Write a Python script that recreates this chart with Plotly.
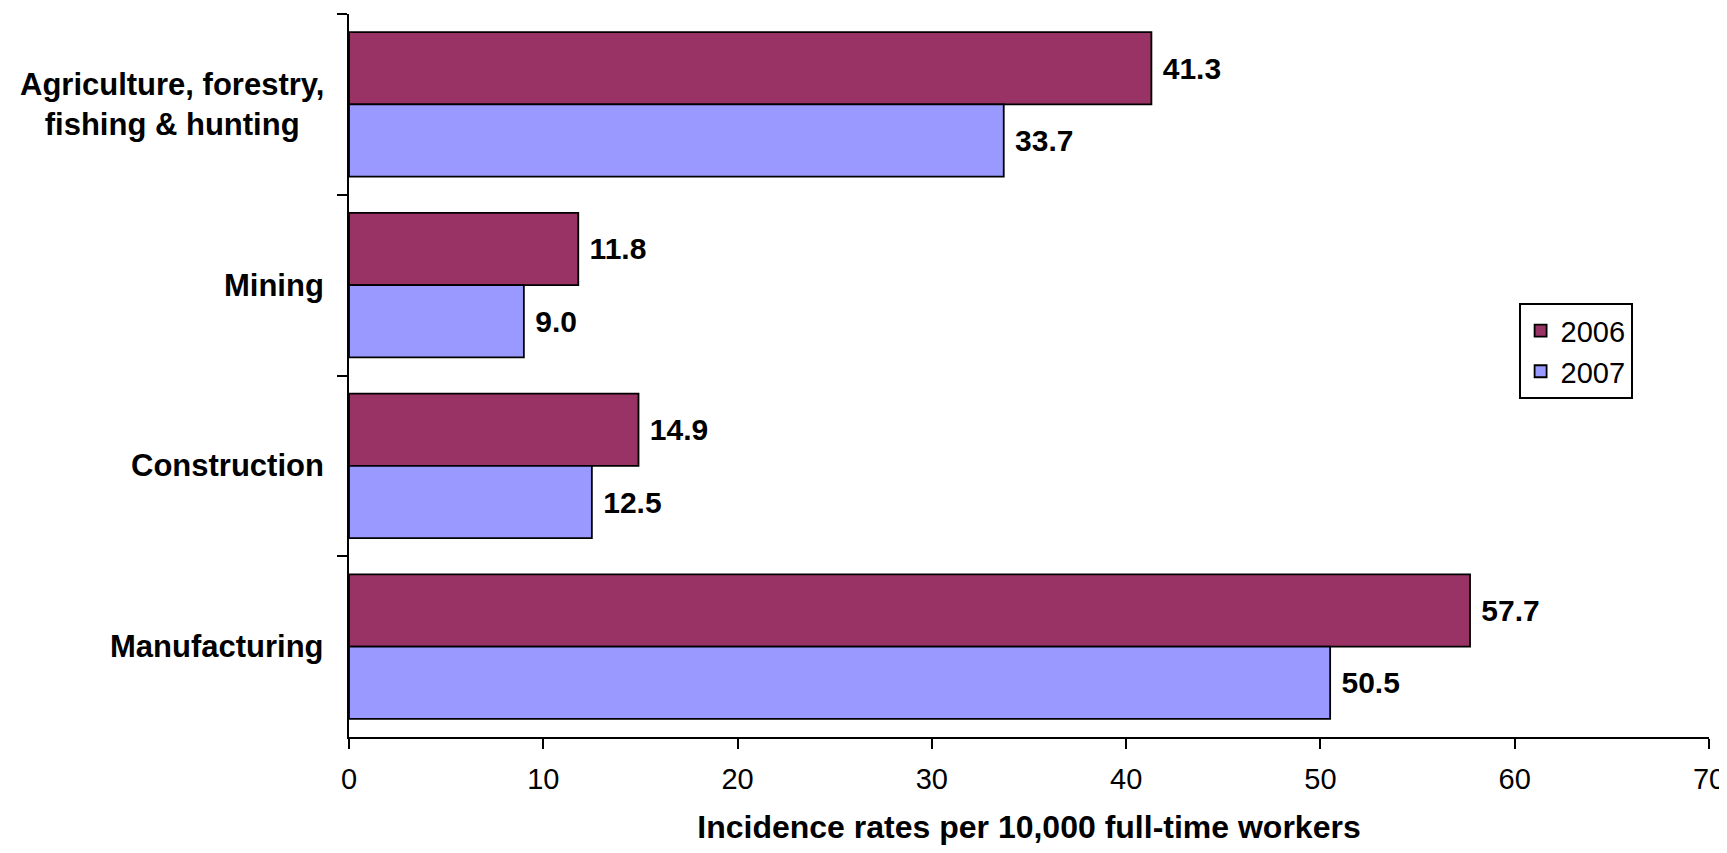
import plotly.graph_objects as go

categories = ["Agriculture, forestry,<br>fishing & hunting", "Mining", "Construction", "Manufacturing"]
series_names = ["2006", "2007"]
values_2006 = [41.3, 11.8, 14.9, 57.7]
values_2007 = [33.7, 9.0, 12.5, 50.5]
x_ticks = [0, 10, 20, 30, 40, 50, 60, 70]
x_title = "Incidence rates per 10,000 full-time workers"

colors = {"2006": "#993366", "2007": "#9999FF"}
FONT = "Liberation Sans, Arial, sans-serif"

fig = go.Figure()
for name, vals in zip(series_names, [values_2006, values_2007]):
    fig.add_trace(go.Bar(
        y=categories,
        x=vals,
        name=name,
        orientation="h",
        marker=dict(color=colors[name], line=dict(color="black", width=1.8)),
        texttemplate=" %{x:.1f}",
        textposition="outside",
        constraintext="none",
        cliponaxis=False,
        textfont=dict(family=FONT, size=30, color="black", weight="bold"),
    ))

annotations = []
for cat in categories:
    annotations.append(dict(
        text="<b>" + cat + "</b>", x=-0.017, xref="paper", y=cat, yref="y",
        xanchor="right", yanchor="middle", align="center", showarrow=False,
        font=dict(family=FONT, size=31, color="black"),
    ))

fig.update_layout(
    width=1719, height=837,
    margin=dict(l=341, r=18, t=6, b=108),
    paper_bgcolor="white", plot_bgcolor="white",
    barmode="group", bargap=0.2, bargroupgap=0,
    font=dict(family=FONT, size=29, color="black"),
    legend=dict(
        x=0.86, y=0.6, xanchor="left", yanchor="top",
        bordercolor="black", borderwidth=2, bgcolor="white",
        font=dict(family=FONT, size=29, color="black"),
        traceorder="normal",
    ),
    annotations=annotations,
    xaxis=dict(
        range=[0, 70], tickvals=x_ticks, ticks="outside", ticklen=10, tickwidth=2,
        tickcolor="black", showline=True, linecolor="black", linewidth=2,
        showgrid=False, zeroline=False, ticklabelstandoff=5,
        ticklabeloverflow="allow", automargin=False,
        tickfont=dict(family=FONT, size=29, color="black"),
        title=dict(text="<b>" + x_title + "</b>",
                   font=dict(family=FONT, size=32, color="black"), standoff=38),
    ),
    yaxis=dict(
        type="category", categoryorder="array", categoryarray=categories,
        autorange="reversed", showticklabels=False, automargin=False,
        tickson="boundaries", ticks="outside", ticklen=10, tickwidth=2, tickcolor="black",
        showline=True, linecolor="black", linewidth=2, showgrid=False, zeroline=False,
    ),
)

fig.write_html("out.html")
